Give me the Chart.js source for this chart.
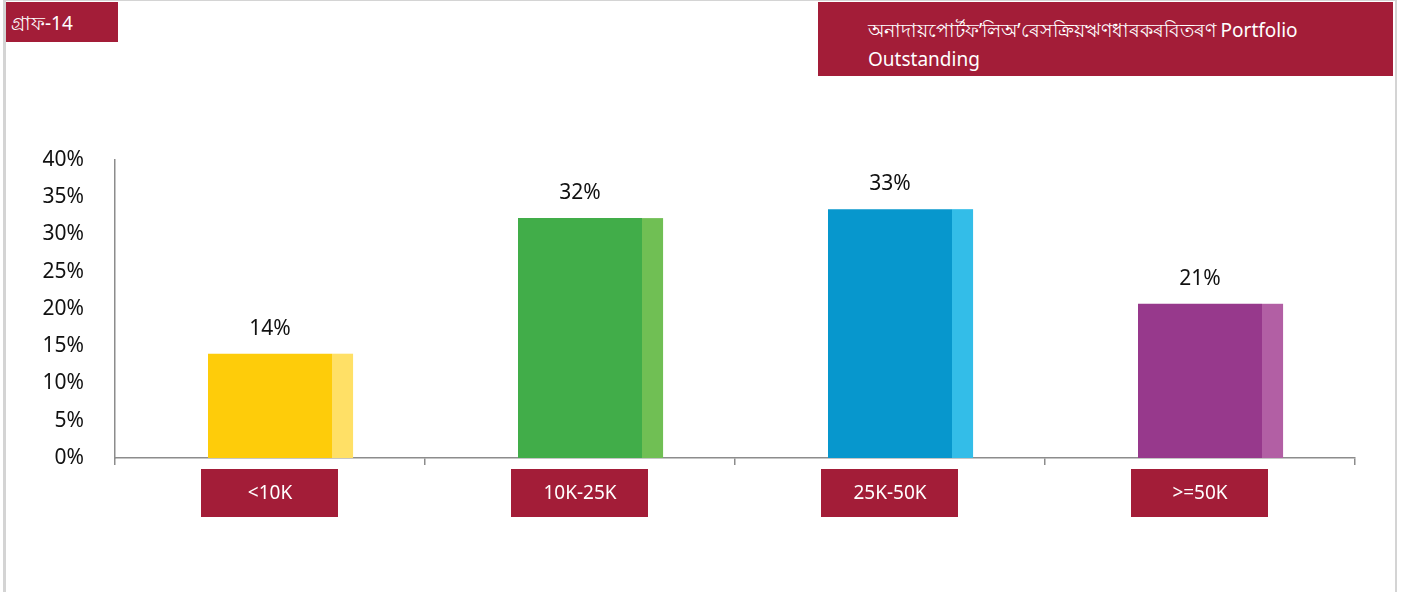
<!DOCTYPE html>
<html>
<head>
<meta charset="utf-8">
<script src="https://cdn.jsdelivr.net/npm/chart.js@4/dist/chart.umd.min.js"></script>
<style>
  html, body { margin: 0; padding: 0; background: #fff; }
  #wrap { position: relative; width: 1407px; height: 592px; overflow: hidden; font-family: "Noto Sans", "Open Sans", sans-serif; }
  #frame { position: absolute; left: 3px; top: 0; width: 1389px; height: 600px; border-left: 3px solid #d4d4d4; border-right: 2px solid #d4d4d4; border-top: 1px solid #d4d4d4; }
  .tag { position: absolute; background: #a31d38; color: #fff; box-sizing: border-box; }
  #graphNo { left: 6px; top: 2px; width: 112px; height: 40px; padding: 7px 0 0 5px; font-size: 19px; }
  #title { left: 818px; top: 2px; width: 575px; height: 74px; padding: 14px 50px 0 50px; font-size: 19px; line-height: 29px; }
  canvas { position: absolute; left: 0; top: 0; }
</style>
</head>
<body>
<div id="wrap">
  <div id="frame"></div>
  <canvas id="chart" width="1407" height="592"></canvas>
  <div class="tag" id="graphNo">গ্ৰাফ-14</div>
  <div class="tag" id="title">অনাদায়পোৰ্টফ’লিঅ’ৰেসক্ৰিয়ঋণধাৰকৰবিতৰণ Portfolio Outstanding</div>
</div>
<script>
const categories = ["<10K", "10K-25K", "25K-50K", ">=50K"];
const shares = [14.0, 32.2, 33.4, 20.7];
const yTicks = [0, 5, 10, 15, 20, 25, 30, 35, 40];
const barColors = ["#fecc0a", "#41ad49", "#0797cd", "#97398c"];
const sideColors = ["#ffe066", "#70bf54", "#33bde8", "#b25fa4"];

const fontFamily = '"Noto Sans", "Open Sans", sans-serif';

// light strip on the right of each bar + value label above it
const barExtras = {
    id: "barExtras",
    afterDatasetsDraw(chart) {
        const ctx = chart.ctx;
        const meta = chart.getDatasetMeta(0);
        ctx.save();
        meta.data.forEach((bar, i) => {
            const side = bar.width * 0.17;
            ctx.fillStyle = sideColors[i];
            ctx.fillRect(bar.x + bar.width / 2, bar.y, side, bar.base - bar.y);
            ctx.fillStyle = "#111";
            ctx.font = "21px " + fontFamily;
            ctx.textAlign = "center";
            ctx.textBaseline = "middle";
            ctx.fillText(Math.round(shares[i]) + "%", bar.x, bar.y - 25);
        });
        ctx.restore();
    },
    afterDraw(chart) {
        const ctx = chart.ctx;
        const xScale = chart.scales.x;
        const top = chart.chartArea.bottom + 11;
        ctx.save();
        categories.forEach((label, i) => {
            const cx = xScale.getPixelForValue(i);
            ctx.fillStyle = "#a31d38";
            ctx.fillRect(cx - 69, top, 137, 48);
            ctx.fillStyle = "#fff";
            ctx.font = "19px " + fontFamily;
            ctx.textAlign = "center";
            ctx.textBaseline = "middle";
            ctx.fillText(label, cx, top + 25);
        });
        ctx.restore();
    },
};

new Chart(document.querySelector("#chart"), {
    type: "bar",
    data: {
        labels: categories,
        datasets: [
            {
                data: shares,
                backgroundColor: barColors,
                categoryPercentage: 1,
                barPercentage: 0.4,
            },
        ],
    },
    options: {
        responsive: false,
        animation: false,
        events: [],
        layout: { padding: { left: 10, right: 52, top: 160, bottom: 0 } },
        plugins: { legend: { display: false }, tooltip: { enabled: false } },
        scales: {
            x: {
                grid: {
                    offset: true,
                    drawOnChartArea: false,
                    drawTicks: true,
                    tickLength: 7,
                    color: "#8c8c8c",
                    lineWidth: 1.5,
                },
                border: { color: "#8c8c8c", width: 1.5 },
                ticks: { display: false },
                afterFit: (scale) => { scale.height = 134; },
            },
            y: {
                min: 0,
                max: 40,
                afterBuildTicks: (scale) => {
                    scale.ticks = yTicks.map((v) => ({ value: v }));
                },
                grid: { display: false },
                border: { color: "#8c8c8c", width: 1.5 },
                ticks: {
                    color: "#111",
                    padding: 23,
                    font: { size: 21, family: fontFamily },
                    callback: (v) => v + "%",
                },
                afterFit: (scale) => { scale.width = 105; },
            },
        },
    },
    plugins: [barExtras],
});
</script>
</body>
</html>
